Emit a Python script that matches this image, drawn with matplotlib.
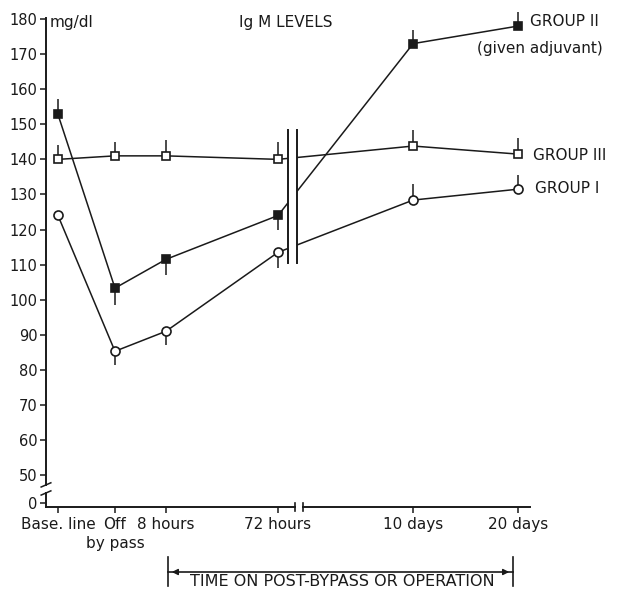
import matplotlib
matplotlib.use('Agg')
import matplotlib.pyplot as plt
from matplotlib.patches import Rectangle
from matplotlib.lines import Line2D

# ---------------- data ----------------
time_labels = ["Base. line", "Off", "8 hours", "72 hours", "10 days", "20 days"]
time_sublabels = ["", "by pass", "", "", "", ""]
time_pos = [0, 1, 1.895, 3.86, 6.23, 8.07]

group1 = [124, 85.3, 91, 113.5, 128.4, 131.5]
group1_err_lo = [0, 4, 4, 4.5, 0, 0]
group1_err_hi = [0, 0, 0, 0, 4.6, 4]

group2 = [152.8, 103.3, 111.5, 124, 173, 178]
group2_err_lo = [0, 4.8, 4.5, 4, 0, 0]
group2_err_hi = [4.4, 0, 0, 0, 4, 4]

group3 = [140, 141, 141, 140, 143.8, 141.5]
group3_err_lo = [0, 0, 0, 0, 0, 0]
group3_err_hi = [4, 4, 4.4, 5, 4.7, 4.5]

ytick_values = [50, 60, 70, 80, 90, 100, 110, 120, 130, 140, 150, 160, 170, 180]

# ---------------- layout ----------------
W, H = 629, 597
fig = plt.figure(figsize=(W / 100, H / 100), dpi=100)
plt.rcParams['font.family'] = ['DejaVu Sans']

def fp(x, y):
    return (x / W, 1 - y / H)

ax_l, ax_r, ax_t, ax_b = 46, 530, 18, 507
ax = fig.add_axes([ax_l / W, 1 - ax_b / H, (ax_r - ax_l) / W, (ax_b - ax_t) / H])

XMIN, XMAX = -0.21, 8.28
YMIN, YMAX = 40.9, 180.3
ZERO_POS = 42
ax.set_xlim(XMIN, XMAX)
ax.set_ylim(YMIN, YMAX)

ink = '#1a1a1a'

def draw(vals, lo, hi, marker, fc, ms):
    ax.errorbar(time_pos, vals, yerr=[lo, hi], fmt='none', ecolor=ink,
                elinewidth=1.1, capsize=0, zorder=2, clip_on=False)
    ax.plot(time_pos, vals, '-', color=ink, lw=1.1, zorder=3, clip_on=False)
    ax.plot(time_pos, vals, linestyle='none', marker=marker, ms=ms,
            mfc=fc, mec=ink, mew=1.2, zorder=4, clip_on=False)

draw(group3, group3_err_lo, group3_err_hi, 's', 'white', 6)
draw(group1, group1_err_lo, group1_err_hi, 'o', 'white', 6.5)
draw(group2, group2_err_lo, group2_err_hi, 's', ink, 6)

# break in plot (white gap with two vertical lines)
bx0, bx1 = 4.035, 4.19
by0, by1 = 110.5, 148.4
ax.add_patch(Rectangle((bx0, by0), bx1 - bx0, by1 - by0, fc='white', ec='none', zorder=5))
for bx in (bx0, bx1):
    ax.plot([bx, bx], [by0, by1], color=ink, lw=1.4, zorder=6)

# spines drawn manually
for s in ax.spines.values():
    s.set_visible(False)
yt = ax.get_yaxis_transform()
xt = ax.get_xaxis_transform()
ax.add_line(Line2D([0, 0], [YMIN, 44.9], transform=yt, color=ink, lw=1.4, clip_on=False))
ax.add_line(Line2D([0, 0], [47.2, YMAX], transform=yt, color=ink, lw=1.4, clip_on=False))
for yb in (44.9, 47.2):
    ax.add_line(Line2D([-0.01, 0.01], [yb - 0.6, yb + 0.6], transform=yt, color=ink, lw=1.1, clip_on=False))
gx0, gx1 = 4.158, 4.299
ax.add_line(Line2D([XMIN, gx0], [0, 0], transform=xt, color=ink, lw=1.4, clip_on=False))
ax.add_line(Line2D([gx1, XMAX], [0, 0], transform=xt, color=ink, lw=1.4, clip_on=False))
for gx in (gx0, gx1):
    ax.add_line(Line2D([gx, gx], [-0.009, 0.009], transform=xt, color=ink, lw=1.2, clip_on=False))

ax.set_yticks([ZERO_POS] + ytick_values)
ax.set_yticklabels(["0"] + [str(v) for v in ytick_values], fontsize=10.5, color=ink)
ax.set_xticks(time_pos)
ax.set_xticklabels(time_labels, fontsize=11, color=ink)
ax.tick_params(direction='out', length=4, width=1.1, color=ink)
ax.tick_params(axis='y', pad=2)
ax.tick_params(axis='x', pad=3)
for xp, sub in zip(time_pos, time_sublabels):
    if sub:
        ax.text(xp, -0.075, sub, transform=xt, fontsize=11, ha='center', va='center', color=ink)

# texts
fig.text(*fp(50, 22), "mg/dl", fontsize=11, ha='left', va='center', color=ink)
fig.text(*fp(286, 22), "Ig M LEVELS", fontsize=11, ha='center', va='center', color=ink)
fig.text(*fp(530, 22), "GROUP II", fontsize=11, ha='left', va='center', color=ink)
fig.text(*fp(477, 48), "(given adjuvant)", fontsize=11, ha='left', va='center', color=ink)
fig.text(*fp(533, 156), "GROUP III", fontsize=11, ha='left', va='center', color=ink)
fig.text(*fp(535, 189), "GROUP I", fontsize=11, ha='left', va='center', color=ink)

# bottom time annotation
fx0, fx1 = 168, 513
ay = 572
fig.add_artist(Line2D([fx0 / W, fx0 / W], [1 - 557 / H, 1 - 586 / H], color=ink, lw=1.2))
fig.add_artist(Line2D([fx1 / W, fx1 / W], [1 - 557 / H, 1 - 586 / H], color=ink, lw=1.2))
fig.add_artist(Line2D([fx0 / W, fx1 / W], [1 - ay / H, 1 - ay / H], color=ink, lw=1.2))
ax.annotate('', xy=fp(fx0 + 1, ay), xytext=fp(fx0 + 12, ay), xycoords='figure fraction',
            textcoords='figure fraction',
            arrowprops=dict(arrowstyle='-|>', color=ink, lw=1.0, mutation_scale=9))
ax.annotate('', xy=fp(fx1 - 1, ay), xytext=fp(fx1 - 12, ay), xycoords='figure fraction',
            textcoords='figure fraction',
            arrowprops=dict(arrowstyle='-|>', color=ink, lw=1.0, mutation_scale=9))
fig.text(*fp(342, 582), "TIME ON POST-BYPASS OR OPERATION", fontsize=11.5,
         ha='center', va='center', color=ink)

fig.savefig('out.png', dpi=100)
